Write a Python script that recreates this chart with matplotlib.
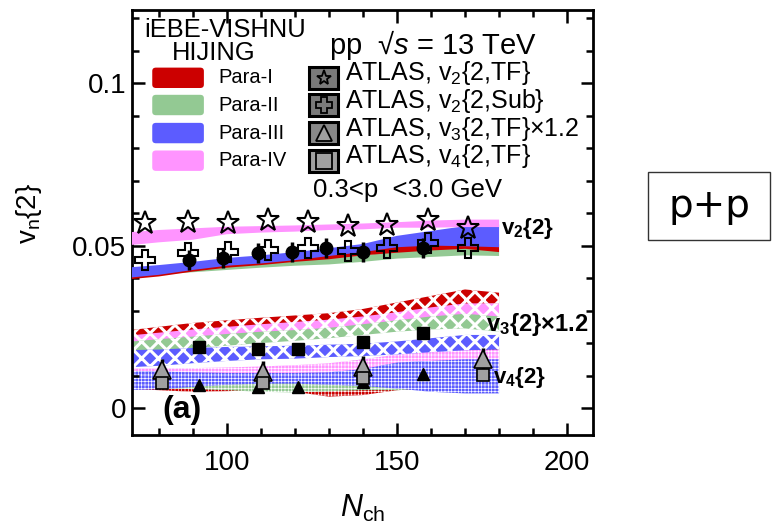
import numpy as np
import matplotlib.pyplot as plt
from matplotlib.patches import FancyBboxPatch, Rectangle

plt.rcParams['font.family'] = ['Liberation Sans', 'DejaVu Sans']
plt.rcParams['mathtext.fontset'] = 'custom'
plt.rcParams['mathtext.rm'] = 'Liberation Sans'
plt.rcParams['mathtext.it'] = 'Liberation Sans:italic'
plt.rcParams['mathtext.bf'] = 'Liberation Sans:bold'
plt.rcParams['mathtext.default'] = 'regular'

#**********************************************
# data

models = ['Para-I', 'Para-II', 'Para-III', 'Para-IV']
model_colors = ['#cc0000', '#93c993', '#5c5cff', '#ff94ff']

n_band = [70, 80, 90, 100, 110, 120, 130, 140, 150, 160, 170, 180]

# v2{2} bands (lower, upper)
v2_lo = {
    'Para-I':   [0.0395, 0.0405, 0.0420, 0.0432, 0.0440, 0.0450, 0.0458, 0.0470, 0.0478, 0.0485, 0.0490, 0.0480],
    'Para-II':  [0.0405, 0.0412, 0.0418, 0.0425, 0.0432, 0.0438, 0.0442, 0.0450, 0.0460, 0.0465, 0.0470, 0.0468],
    'Para-III': [0.0400, 0.0410, 0.0425, 0.0438, 0.0445, 0.0455, 0.0468, 0.0480, 0.0495, 0.0500, 0.0498, 0.0495],
    'Para-IV':  [0.0500, 0.0510, 0.0518, 0.0535, 0.0540, 0.0543, 0.0548, 0.0550, 0.0555, 0.0555, 0.0557, 0.0557],
}
v2_hi = {
    'Para-I':   [0.0425, 0.0435, 0.0445, 0.0455, 0.0465, 0.0472, 0.0478, 0.0490, 0.0500, 0.0505, 0.0515, 0.0505],
    'Para-II':  [0.0425, 0.0432, 0.0440, 0.0448, 0.0450, 0.0455, 0.0462, 0.0470, 0.0482, 0.0490, 0.0495, 0.0490],
    'Para-III': [0.0432, 0.0440, 0.0450, 0.0462, 0.0470, 0.0480, 0.0492, 0.0505, 0.0530, 0.0545, 0.0560, 0.0565],
    'Para-IV':  [0.0540, 0.0548, 0.0553, 0.0558, 0.0560, 0.0562, 0.0565, 0.0568, 0.0572, 0.0577, 0.0580, 0.0580],
}
# v3{2} x 1.2 bands
v3_lo = {
    'Para-I':   [0.0200, 0.0212, 0.0225, 0.0238, 0.0248, 0.0255, 0.0262, 0.0275, 0.0290, 0.0305, 0.0320, 0.0322],
    'Para-II':  [0.0165, 0.0175, 0.0185, 0.0192, 0.0200, 0.0207, 0.0215, 0.0225, 0.0235, 0.0242, 0.0245, 0.0235],
    'Para-III': [0.0125, 0.0130, 0.0138, 0.0145, 0.0150, 0.0152, 0.0157, 0.0160, 0.0165, 0.0172, 0.0178, 0.0180],
    'Para-IV':  [0.0185, 0.0195, 0.0205, 0.0215, 0.0225, 0.0235, 0.0245, 0.0255, 0.0265, 0.0275, 0.0275, 0.0260],
}
v3_hi = {
    'Para-I':   [0.0238, 0.0250, 0.0262, 0.0270, 0.0278, 0.0285, 0.0292, 0.0305, 0.0325, 0.0345, 0.0365, 0.0355],
    'Para-II':  [0.0203, 0.0212, 0.0220, 0.0228, 0.0235, 0.0240, 0.0247, 0.0258, 0.0270, 0.0282, 0.0290, 0.0282],
    'Para-III': [0.0178, 0.0180, 0.0185, 0.0188, 0.0190, 0.0192, 0.0195, 0.0198, 0.0205, 0.0215, 0.0225, 0.0225],
    'Para-IV':  [0.0222, 0.0232, 0.0242, 0.0250, 0.0258, 0.0265, 0.0272, 0.0282, 0.0295, 0.0310, 0.0322, 0.0322],
}
# v4{2} bands
v4_lo = {
    'Para-I':   [0.0060, 0.0055, 0.0050, 0.0052, 0.0055, 0.0050, 0.0035, 0.0040, 0.0055, 0.0060, 0.0070, 0.0075],
    'Para-II':  [0.0065, 0.0062, 0.0058, 0.0055, 0.0050, 0.0048, 0.0052, 0.0055, 0.0055, 0.0060, 0.0065, 0.0065],
    'Para-III': [0.0055, 0.0058, 0.0065, 0.0072, 0.0075, 0.0075, 0.0072, 0.0068, 0.0060, 0.0050, 0.0045, 0.0045],
    'Para-IV':  [0.0085, 0.0085, 0.0088, 0.0090, 0.0092, 0.0095, 0.0098, 0.0105, 0.0115, 0.0120, 0.0125, 0.0125],
}
v4_hi = {
    'Para-I':   [0.0105, 0.0105, 0.0108, 0.0110, 0.0110, 0.0110, 0.0112, 0.0125, 0.0150, 0.0170, 0.0185, 0.0185],
    'Para-II':  [0.0100, 0.0100, 0.0102, 0.0105, 0.0115, 0.0125, 0.0135, 0.0150, 0.0155, 0.0150, 0.0140, 0.0140],
    'Para-III': [0.0115, 0.0112, 0.0110, 0.0108, 0.0108, 0.0108, 0.0110, 0.0120, 0.0140, 0.0145, 0.0150, 0.0150],
    'Para-IV':  [0.0122, 0.0122, 0.0123, 0.0125, 0.0128, 0.0132, 0.0138, 0.0150, 0.0165, 0.0175, 0.0180, 0.0180],
}

# ATLAS points
n_atlas = [75.9, 88.6, 100.3, 112.1, 123.9, 135.6, 147.1, 159.2, 170.9]
v2_tf = [0.0569, 0.0572, 0.0569, 0.0578, 0.0572, 0.0560, 0.0563, 0.0578, 0.0554]
v2_sub = [0.0455, 0.0477, 0.0480, 0.0486, 0.0492, 0.0483, 0.0492, 0.0508, 0.0492]
n_atlas_hi = [80.9, 110.6, 140.0, 175.3]
v3_tf = [0.0117, 0.0111, 0.0126, 0.0151]
v3_tf_err = [0.0035, 0.0035, 0.0035, 0.0035]
v4_tf = [0.0077, 0.0077, 0.0092, 0.0102]
v4_tf_err = [0.0015, 0.0015, 0.0015, 0.0015]

# other data (filled black)
n_v2_other = [88.9, 98.9, 109.2, 119.2, 129.2, 140.0, 157.7]
v2_other = [0.0455, 0.0462, 0.0477, 0.0480, 0.0492, 0.0480, 0.0492]
v2_other_err = [0.003, 0.003, 0.003, 0.003, 0.003, 0.003, 0.003]
n_v3_other = [91.8, 109.2, 120.9, 140.0, 157.7]
v3_other = [0.0188, 0.0182, 0.0182, 0.0203, 0.0231]
v3_other_err = [0.0005, 0.0005, 0.0005, 0.0005, 0.0012]
v4_other = [0.0071, 0.0065, 0.0065, 0.0080, 0.0105]

yticks = [0, 0.05, 0.1]
ytick_labels = ['0', '0.05', '0.1']
xticks = [100, 150, 200]

#**********************************************

fig = plt.figure(figsize=(7.74, 5.30), dpi=100)
ax = fig.add_axes([0.1705, 0.1792, 0.5956, 0.8019])

def band(lo, hi, color, hatch=None, hlw=1.0, z=1):
    with plt.rc_context({'hatch.linewidth': hlw, 'hatch.color': 'white'}):
        if hatch is None:
            p = ax.fill_between(n_band, lo, hi, facecolor=color, linewidth=0, zorder=z)
        else:
            p = ax.fill_between(n_band, lo, hi, facecolor=color, edgecolor='white',
                                hatch=hatch, linewidth=0, zorder=z)
            try:
                p.set_hatch_linewidth(hlw)
            except AttributeError:
                pass
    return p

# v4 bands
for m in ['Para-I', 'Para-II', 'Para-IV', 'Para-III']:
    c = model_colors[models.index(m)]
    band(v4_lo[m], v4_hi[m], c, hatch='+++++', hlw=0.45, z=1)
# v3 bands
for m in ['Para-I', 'Para-IV', 'Para-II', 'Para-III']:
    c = model_colors[models.index(m)]
    band(v3_lo[m], v3_hi[m], c, hatch='xx', hlw=2.2, z=2)
# v2 bands
for m in ['Para-II', 'Para-I', 'Para-III', 'Para-IV']:
    c = model_colors[models.index(m)]
    band(v2_lo[m], v2_hi[m], c, z=3)

# data points
ax.plot(n_atlas, v2_tf, ls='none', marker='*', ms=17, mfc='none', mec='black', mew=1.5, zorder=5)
ax.plot(n_atlas, v2_sub, ls='none', marker='P', ms=14, mfc='none', mec='black', mew=1.5, zorder=5)
ax.errorbar(n_v2_other, v2_other, yerr=v2_other_err, fmt='o', color='black', ms=9,
            elinewidth=2.5, capsize=0, zorder=6)
ax.errorbar(n_v3_other, v3_other, yerr=v3_other_err, fmt='s', color='black', ms=8,
            elinewidth=2.5, capsize=0, zorder=6)
ax.plot(n_v3_other, v4_other, ls='none', marker='^', ms=8, color='black', zorder=6)
ax.errorbar(n_atlas_hi, v3_tf, yerr=v3_tf_err, fmt='^', mfc='#a0a0a0', mec='black', ecolor='black',
            ms=13, mew=1.2, elinewidth=2.5, capsize=0, zorder=7)
ax.errorbar(n_atlas_hi, v4_tf, yerr=v4_tf_err, fmt='s', mfc='#a0a0a0', mec='black', ecolor='black',
            ms=9, mew=1.2, elinewidth=2.5, capsize=0, zorder=7)

# axes style
ax.set_xlim(72.1, 207.6)
ax.set_ylim(-0.0083, 0.1225)
ax.set_xticks(xticks)
ax.set_xticks(np.arange(80, 210, 10), minor=True)
ax.set_yticks(yticks)
ax.set_yticklabels(ytick_labels)
ax.set_yticks(np.arange(0.0, 0.121, 0.01), minor=True)
ax.tick_params(which='both', direction='in', top=True, right=True, width=1.8, labelsize=20)
ax.tick_params(which='major', length=9)
ax.tick_params(which='minor', length=5)
for s in ax.spines.values():
    s.set_linewidth(2)
ax.tick_params(axis='x', pad=11)
ax.tick_params(axis='y', pad=4)

ax.set_xlabel(r'$\it{N}_{\rm ch}$', fontsize=22, labelpad=12)
ax.set_ylabel(r'v$_{\rm n}${2}', fontsize=20)
ax.yaxis.set_label_coords(-0.19, 0.522)

# curve labels
ax.text(0.80, 0.485, r'v$_{\mathbf{2}}${2}', transform=ax.transAxes, fontsize=16,
        fontweight='bold', va='center')
ax.text(0.767, 0.259, r'v$_{\mathbf{3}}${2}×1.2', transform=ax.transAxes, fontsize=17,
        fontweight='bold', va='center')
ax.text(0.783, 0.135, r'v$_{\mathbf{4}}${2}', transform=ax.transAxes, fontsize=16,
        fontweight='bold', va='center')
ax.text(0.065, 0.059, '(a)', transform=ax.transAxes, fontsize=23, fontweight='bold', va='center')

# legend: model
ax.text(0.2017, 0.953, 'iEBE-VISHNU', transform=ax.transAxes, fontsize=18.4, ha='center', va='center')
ax.text(0.178, 0.900, 'HIJING', transform=ax.transAxes, fontsize=18.4, ha='center', va='center')
sw_y = [0.8405, 0.7765, 0.7105, 0.6455]
for i, (m, c) in enumerate(zip(models, model_colors)):
    ax.add_patch(FancyBboxPatch((0.044, sw_y[i] - 0.024), 0.112, 0.048,
                                boxstyle='round,pad=0,rounding_size=0.008',
                                transform=ax.transAxes, facecolor=c, edgecolor='none',
                                clip_on=False, zorder=8))
    ax.text(0.187, sw_y[i], m, transform=ax.transAxes, fontsize=14.5, va='center')

# legend: data
ax.text(0.427, 0.918, r'pp  √$\it{s}$ = 13 TeV', transform=ax.transAxes, fontsize=21, va='center')
atlas_labels = [r'ATLAS, v$_2${2,TF}', r'ATLAS, v$_2${2,Sub}',
                r'ATLAS, v$_3${2,TF}×1.2', r'ATLAS, v$_4${2,TF}']
atlas_marks = ['*', 'P', '^', 's']
box_fc = ['#7a7a7a', '#7a7a7a', '#888888', '#a0a0a0']
for i in range(4):
    ax.add_patch(Rectangle((0.385, sw_y[i] - 0.026), 0.063, 0.052, transform=ax.transAxes,
                           facecolor=box_fc[i], edgecolor='black', linewidth=2.2, zorder=8))
    ax.plot([0.4165], [sw_y[i]], transform=ax.transAxes, marker=atlas_marks[i], ms=11,
            mfc='none' if i < 2 else '#a0a0a0', mec='black', mew=1.3, ls='none', zorder=9)
    ax.text(0.463, sw_y[i] - 0.006, atlas_labels[i], transform=ax.transAxes, fontsize=18,
            va='baseline')
ax.text(0.393, 0.577, r'0.3<p  <3.0 GeV', transform=ax.transAxes, fontsize=18.5, va='center')

# p+p box
fig.patches.append(Rectangle((0.8372, 0.5472), 0.1576, 0.1283, transform=fig.transFigure,
                             facecolor='white', edgecolor='#333333', linewidth=1))
fig.text(0.916, 0.6113, 'p+p', fontsize=28, ha='center', va='center', family=['DejaVu Sans'])

plt.savefig('out.png', dpi=100)
